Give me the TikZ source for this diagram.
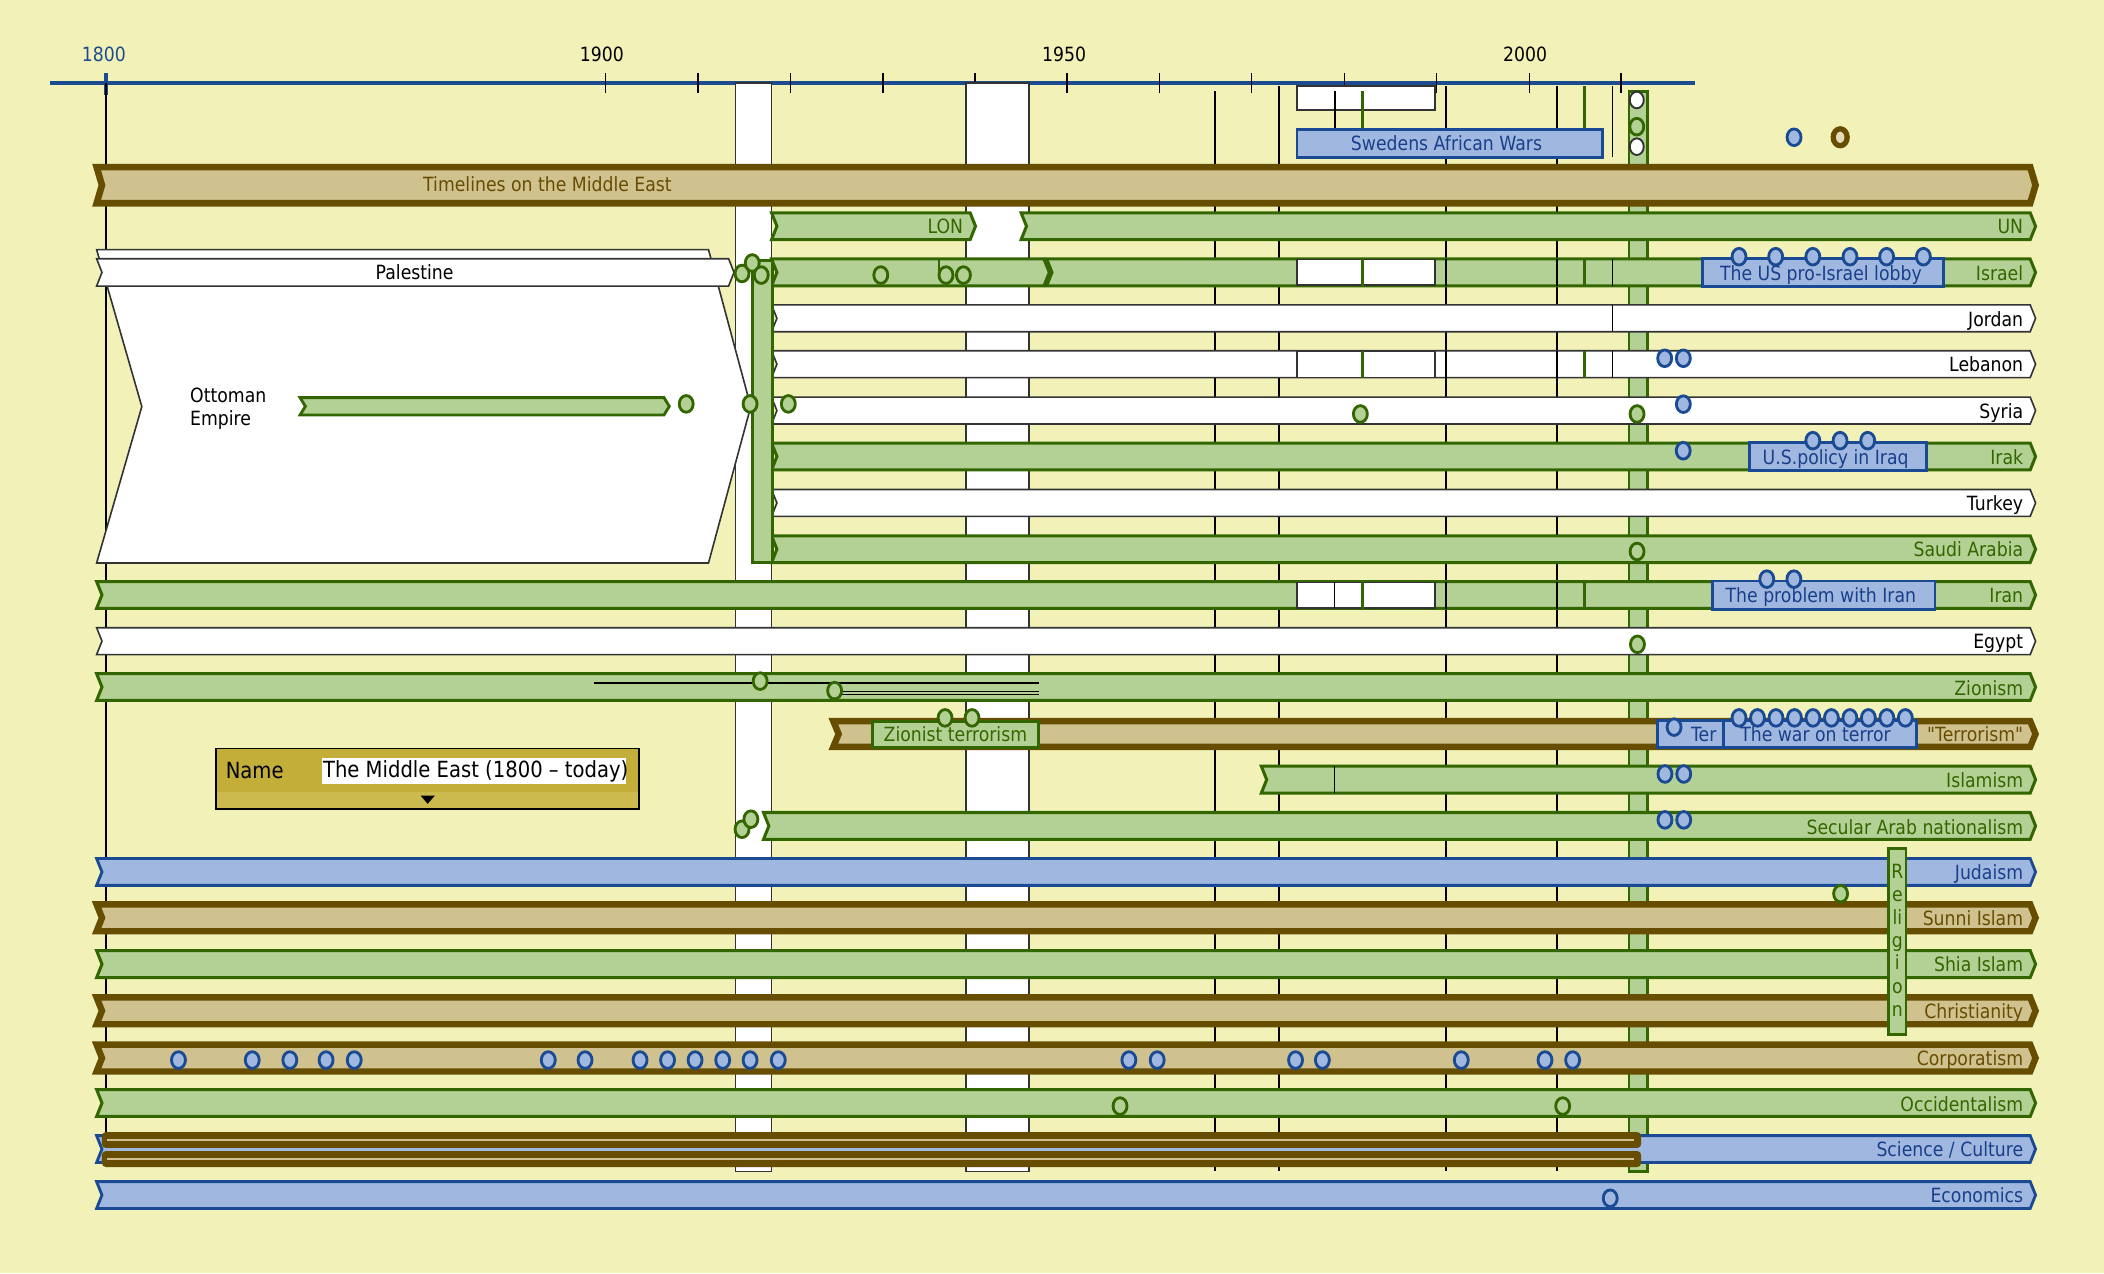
\documentclass[tikz,border=0pt]{standalone}
\usepackage{fontspec}
\setmainfont{DejaVu Sans}[FakeStretch=0.88]
\newfontfamily\qfont{DejaVu Sans}[FakeStretch=0.88,Ligatures=TeXOff]
\definecolor{bg}{HTML}{F2F2B8}
\definecolor{gfill}{HTML}{B3D194}
\definecolor{gline}{HTML}{336600}
\definecolor{tfill}{HTML}{D0C28F}
\definecolor{tline}{HTML}{664D00}
\definecolor{bfill}{HTML}{A0B8DF}
\definecolor{bline}{HTML}{1A4A94}
\definecolor{btext}{HTML}{1A3F8A}
\definecolor{axisc}{HTML}{1D4B8F}
\definecolor{gold}{HTML}{C4AE3A}
\definecolor{goldb}{HTML}{CDBA4F}
\newcommand{\lab}{\fontsize{10.4}{12.2}\selectfont}
\newcommand{\bandp}[5]{\path[#1] (#2,#4-#5) -- (#3-4,#4-#5) -- (#3,#4) -- (#3-4,#4+#5) -- (#2,#4+#5) -- (#2+4,#4) -- cycle;}
\newcommand{\pdot}[3]{\path[#1] (#2,#3) ellipse [x radius=5.2, y radius=6.2];}
\begin{document}
\begin{tikzpicture}[x=0.025cm,y=-0.025cm,
  gband/.style={fill=gfill,draw=gline,line width=1.6pt},
  tband/.style={fill=tfill,draw=tline,line width=3.4pt},
  bband/.style={fill=bfill,draw=bline,line width=1.5pt},
  wband/.style={fill=white,draw=black!80,line width=0.85pt},
  vline/.style={draw=black,line width=0.9pt},
  gvline/.style={draw=gline,line width=1.6pt},
  lab/.style={anchor=east,font=\lab,inner sep=0pt,text height=7.5pt,text depth=2pt,yshift=-0.3mm},
  glab/.style={lab,text=gline},
  tlab/.style={lab,text=tline},
  blab/.style={lab,text=btext},
  klab/.style={lab,text=black},
  clab/.style={font=\lab,inner sep=0pt,text height=7.5pt,text depth=2pt},
  bdot/.style={draw=bline,fill=bfill,line width=1.5pt},
  gdot/.style={draw=gline,fill=gfill,line width=1.5pt},
  wdot/.style={draw=black!80,fill=white,line width=1pt}]
\fill[bg] (0,0) rectangle (1568,949);
\useasboundingbox (0,0) rectangle (1568,949);
% ---------- axis
\draw[axisc,line width=2.2pt] (37.6,62) -- (1263,62);
\foreach \x in {451.2,520.2,589.2,658.2,726.7,795.2,864.1,932.8,1001.9,1070.5,1139.7,1208.2}
  \draw[black,line width=0.8pt] (\x,54.7) -- (\x,69.5);
\draw[axisc,line width=1.6pt] (79,54.7) -- (79,71);
\node[clab,text=axisc] (y1800) at (77.4,42.2) {1800};
\node[clab] (y1900) at (448.6,42.2) {1900};
\node[clab] (y1950) at (793,42.2) {1950};
\node[clab] (y2000) at (1136.6,42.2) {2000};
% ---------- background verticals
\draw[black,line width=0.7pt] (79,62) -- (79,845);
\draw[wband,line width=0.8pt] (548,62) rectangle (575,873);
\draw[wband,line width=0.8pt] (720,62) rectangle (767,873);
\draw[vline] (905.5,68) -- (905.5,873);
\draw[vline] (953,64) -- (953,873);
\draw[vline] (1077.5,64) -- (1077.5,873);
\draw[vline] (1160.5,64) -- (1160.5,873);
\draw[gband,line width=1.4pt] (1214,68) rectangle (1228,873);
% ---------- top area
\draw[wband] (966.6,64) rectangle (1069.6,82);
\draw[vline] (995,68) -- (995,96);
\draw[gvline] (1015.5,68) -- (1015.5,96);
\draw[gvline] (1180.6,64) -- (1180.6,96);
\draw[bband] (966.6,96.5) rectangle (1194,117.5);
\node[clab,text=btext] (sweden) at (1078,108) {Swedens African Wars};
\draw[vline] (1201.6,64) -- (1201.6,117);
\pdot{wdot}{1219.8}{74.5}
\pdot{gdot}{1219.8}{94.4}
\pdot{wdot}{1219.8}{109.3}
\pdot{bdot}{1337}{102.3}
\path[draw=tline,fill=tfill!60!white,line width=2.8pt] (1371.4,102.3) ellipse [x radius=5.2, y radius=6.3];
% ---------- title band
\bandp{tband,line width=3.5pt}{72}{1517}{138}{13.5}
\node[clab,text=tline] (title) at (408,139) {Timelines on the Middle East};
% ---------- LON / UN
\bandp{gband}{575}{727}{168.6}{10}
\node[glab] (lon) at (718,169) {LON};
\bandp{gband}{761}{1517}{168.6}{10}
\node[glab] (un) at (1508,169) {UN};
% ---------- Ottoman Empire and Palestine
\path[wband] (72,186) -- (528,186) -- (559.5,303) -- (528,419.6) -- (72,419.6) -- (105.7,303) -- cycle;
\node[font=\lab,anchor=west,align=left,inner sep=0pt] (ottoman) at (141.5,304.5) {Ottoman\\Empire};
\bandp{gband,line width=1.5pt}{223.6}{498.8}{302.8}{6.5}
\pdot{gdot}{511.4}{301}
\bandp{wband}{72}{547}{203}{10.2}
\node[clab] (palestine) at (309,204.5) {Palestine};
% ---------- Israel
\bandp{gband}{575}{782}{203}{10}
\bandp{gband}{780}{1517}{203}{10}
\draw[wband] (966.6,193.5) rectangle (1069.6,212.5);
\draw[gvline] (1015.5,193) -- (1015.5,213);
\draw[vline] (1077.5,193) -- (1077.5,213);
\draw[vline] (1160.5,193) -- (1160.5,213);
\draw[gvline] (1180.6,193) -- (1180.6,213);
\draw[vline] (1201.6,193) -- (1201.6,213);
\draw[bband] (1269,192.5) rectangle (1448.6,213.5);
\node[clab,text=btext] (lobby) at (1357,205) {The US pro-Israel lobby};
\foreach \x in {1296,1323.3,1351,1378.7,1406,1433.4} {\pdot{bdot}{\x}{191.3}}
\node[glab] (israel) at (1508,204) {Israel};
\draw[gline,line width=1.2pt] (700,193) -- (700,203);
\pdot{gdot}{656.4}{205}
\pdot{gdot}{705}{205}
\pdot{gdot}{718}{205}
% ---------- Jordan
\bandp{wband}{575}{1517}{237.2}{10}
\draw[vline] (1201.6,227.5) -- (1201.6,247);
\node[klab] (jordan) at (1508,238) {Jordan};
% ---------- Lebanon
\bandp{wband}{575}{1517}{271.4}{10}
\draw[wband] (966.6,261.5) rectangle (1069.6,281.3);
\draw[gvline] (1015.5,261.5) -- (1015.5,281.5);
\draw[vline] (1077.5,261.5) -- (1077.5,281.5);
\draw[vline] (1160.5,261.5) -- (1160.5,281.5);
\draw[gvline] (1180.6,261.5) -- (1180.6,281.5);
\draw[vline] (1201.6,261.5) -- (1201.6,281.5);
\pdot{bdot}{1240.6}{267}
\pdot{bdot}{1254.5}{267}
\node[klab] (lebanon) at (1508,272) {Lebanon};
% ---------- Syria
\bandp{wband}{575}{1517}{306}{10}
\pdot{gdot}{1013.8}{308.5}
\pdot{gdot}{1220}{308.5}
\pdot{bdot}{1254.5}{301.2}
\node[klab] (syria) at (1508,307) {Syria};
% ---------- Irak
\bandp{gband}{575}{1517}{340.2}{10}
\pdot{bdot}{1254.4}{335.9}
\draw[bband] (1304,330) rectangle (1435.6,350.8);
\node[clab,text=btext] (iraq) at (1368,342) {U.S.policy in Iraq};
\foreach \x in {1351,1371.3,1391.9} {\pdot{bdot}{\x}{328.4}}
\node[glab] (irak) at (1508,341) {Irak};
% ---------- Turkey
\bandp{wband}{575}{1517}{374.8}{10}
\node[klab] (turkey) at (1508,375.5) {Turkey};
% ---------- Saudi Arabia
\bandp{gband}{575}{1517}{409.3}{10}
\pdot{gdot}{1220}{411}
\node[glab] (saudi) at (1508,410) {Saudi Arabia};
% ---------- vertical green bar + dots
\draw[gband,line width=1.5pt] (560.5,194) rectangle (575.5,419);
\pdot{gdot}{553}{203.8}
\pdot{gdot}{560.6}{196}
\pdot{gdot}{567.3}{205}
\pdot{gdot}{559}{301}
\pdot{gdot}{587.5}{301}
% ---------- Iran
\bandp{gband}{72}{1517}{443.4}{10}
\draw[wband] (966.6,434) rectangle (1069.6,453);
\draw[vline] (994.5,434) -- (994.5,453);
\draw[gvline] (1015.5,433.5) -- (1015.5,453.5);
\draw[vline] (1077.5,433.5) -- (1077.5,453.5);
\draw[vline] (1160.5,433.5) -- (1160.5,453.5);
\draw[gvline] (1180.6,433.5) -- (1180.6,453.5);
\draw[bband] (1276,433) rectangle (1442,454);
\node[clab,text=btext] (iranp) at (1357,445) {The problem with Iran};
\pdot{bdot}{1316.7}{431.6}
\pdot{bdot}{1336.9}{431.6}
\node[glab] (iran) at (1508,444) {Iran};
% ---------- Egypt
\bandp{wband}{72}{1517}{477.8}{10}
\pdot{gdot}{1220.3}{480.2}
\node[klab] (egypt) at (1508,478.5) {Egypt};
% ---------- Zionism
\bandp{gband}{72}{1517}{512}{10}
\draw[black,line width=0.9pt] (443,509) -- (774,509);
\draw[black,line width=0.6pt] (624,515.2) -- (774,515.2);
\draw[black,line width=0.6pt] (624,517.8) -- (774,517.8);
\pdot{gdot}{566.5}{507.6}
\pdot{gdot}{622}{514.7}
\node[glab] (zionism) at (1508,513) {Zionism};
% ---------- Terrorism
\bandp{tband}{621}{1517}{547}{9.6}
\draw[gband,line width=1.4pt] (650,537.5) rectangle (774,557);
\node[clab,text=gline] (zterr) at (712,549) {Zionist terrorism};
\pdot{gdot}{704.3}{535}
\pdot{gdot}{724.4}{535}
\draw[bband] (1235.5,537) rectangle (1284.4,557);
\node[clab,text=btext,anchor=west] (ter) at (1260,549) {Ter};
\pdot{bdot}{1247.6}{541.9}
\draw[bband] (1284.4,537) rectangle (1428,557);
\node[clab,text=btext] (waront) at (1353,549) {The war on terror};
\foreach \i in {0,...,9} {\pdot{bdot}{1296+13.77*\i}{535}}
\node[tlab] (terrorism) at (1508,547.5) {\qfont "Terrorism"};
% ---------- Islamism
\bandp{gband}{940}{1517}{581}{10}
\draw[vline] (994.5,571) -- (994.5,591);
\pdot{bdot}{1240.8}{576.8}
\pdot{bdot}{1254.8}{576.8}
\node[glab] (islamism) at (1508,582) {Islamism};
% ---------- Secular Arab nationalism
\bandp{gband}{569}{1517}{615.5}{10}
\pdot{gdot}{553}{618}
\pdot{gdot}{559.6}{610.5}
\pdot{bdot}{1240.8}{611}
\pdot{bdot}{1254.8}{611}
\node[glab] (secular) at (1508,616.5) {Secular Arab nationalism};
% ---------- Name box
\fill[gold] (161.3,557.8) rectangle (476.2,590);
\fill[goldb] (161.3,590) rectangle (476.2,603);
\draw[black,line width=1pt] (161.3,557.8) rectangle (476.2,603);
\fill[white] (240,564.8) rectangle (466.3,584);
\node[anchor=west,inner sep=0pt,font=\fontsize{11.8}{13}\selectfont] (namek) at (168,574.5) {Name};
\node[anchor=west,inner sep=0pt,font=\fontsize{11.8}{13}\selectfont] (namev) at (240.5,574.5) {The Middle East (1800 – today)};
\fill[black] (313.5,593) -- (324,593) -- (318.7,599) -- cycle;
% ---------- Religions
\bandp{bband}{72}{1517}{649.8}{10}
\node[blab] (judaism) at (1508,650.5) {Judaism};
\bandp{tband}{72}{1517}{684}{10}
\node[tlab] (sunni) at (1508,685) {Sunni Islam};
\bandp{gband}{72}{1517}{718.5}{10}
\node[glab] (shia) at (1508,719) {Shia Islam};
\bandp{tband}{72}{1517}{753.3}{10}
\node[tlab] (christ) at (1508,754) {Christianity};
\pdot{gdot}{1371.7}{666}
\draw[gband,line width=1.4pt] (1407.5,632.5) rectangle (1420.5,771);
\node[clab,text=gline] (r1) at (1414,651) {R};
\node[clab,text=gline] (r2) at (1414,668) {e};
\node[clab,text=gline] (r3) at (1414,685) {li};
\node[clab,text=gline] (r4) at (1414,702.5) {g};
\node[clab,text=gline] (r5) at (1414,719) {i};
\node[clab,text=gline] (r6) at (1414,736.5) {o};
\node[clab,text=gline] (r7) at (1414,754) {n};
% ---------- Corporatism
\bandp{tband}{72}{1517}{788.5}{10}
\foreach \x in {133,188,216,243,264,408.6,436,477,497.5,518,538.6,559,580,841.3,862.4,965.5,985.5,1089,1151.4,1172}
  {\pdot{bdot}{\x}{790}}
\node[tlab] (corp) at (1508,789) {Corporatism};
% ---------- Occidentalism
\bandp{gband}{72}{1517}{822}{10}
\pdot{gdot}{834.7}{824.3}
\pdot{gdot}{1164.6}{824.3}
\node[glab] (occ) at (1508,823) {Occidentalism};
% ---------- Science / Culture
\bandp{bband}{72}{1517}{856.3}{10}
\fill[tline,rounded corners=2pt] (76,843.7) rectangle (1223,855.5);
\draw[tfill,line width=0.7pt] (80,849.6) -- (1218,849.6);
\fill[tline,rounded corners=2pt] (76,857.8) rectangle (1223,869.7);
\draw[tfill,line width=0.7pt] (80,863.7) -- (1218,863.7);
\node[blab] (science) at (1508,857) {Science / Culture};
% ---------- Economics
\bandp{bband}{72}{1517}{890.6}{10}
\pdot{bdot}{1200}{893}
\node[blab] (econ) at (1508,891) {Economics};
\end{tikzpicture}
\end{document}
